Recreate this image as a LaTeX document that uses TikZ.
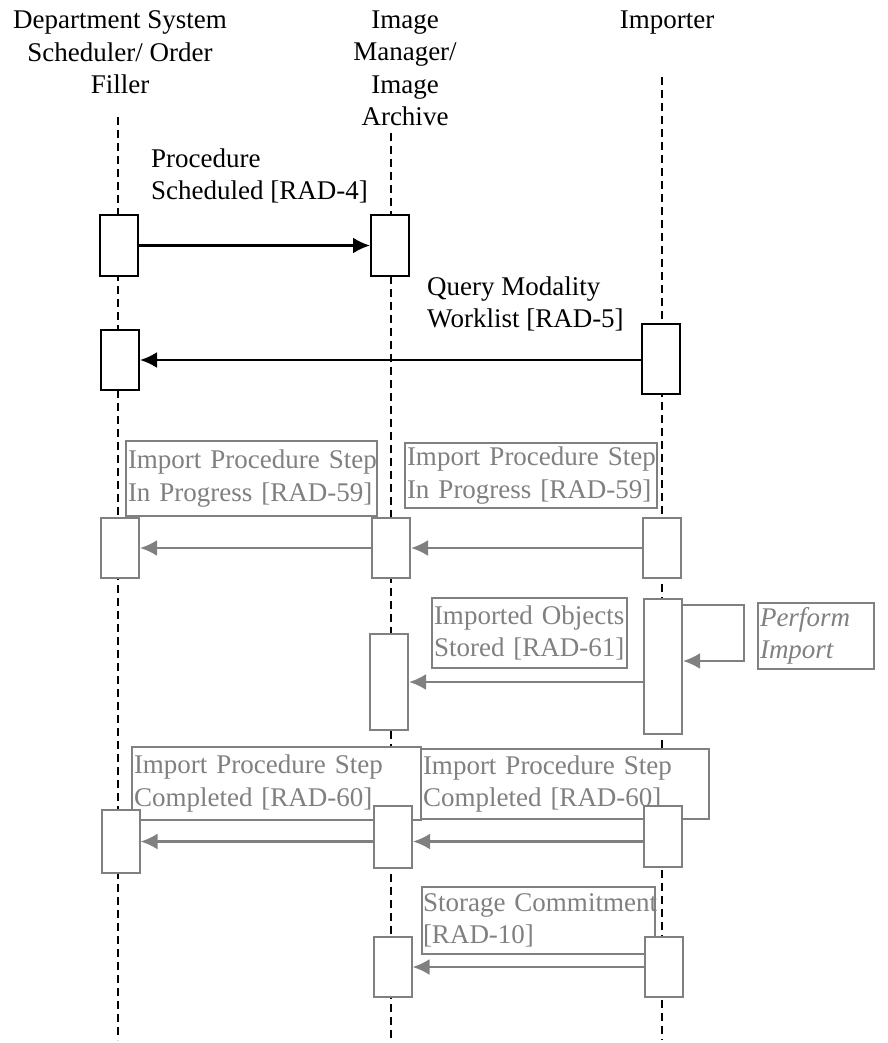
\documentclass[tikz,border=0pt]{standalone}
\usepackage{fontspec}
\setmainfont{Liberation Serif}
\usetikzlibrary{arrows.meta}

\newcommand{\diagfont}{\fontsize{27}{32.5}\selectfont}

\tikzset{
  lifeline/.style={line width=1.5pt, dash pattern=on 8pt off 5pt},
  actbox/.style={draw, fill=white, line width=2pt, minimum width=38pt, inner sep=0pt},
  greybox/.style={actbox, draw=gray},
  msg/.style={-{Latex[length=17pt,width=16pt]}, line width=2.5pt},
  greymsg/.style={msg, gray},
  note/.style={draw=gray, fill=white, text=gray, line width=2pt, align=left,
    anchor=north west, inner xsep=2pt, inner ysep=0pt},
  actor/.style={align=center, anchor=north, inner sep=0pt},
  plain/.style={align=left, anchor=north west, inner sep=0pt}
}

\begin{document}
\begin{tikzpicture}[x=1pt, y=-1pt, every node/.style={font=\diagfont}]
  \useasboundingbox (0,0) rectangle (887,1043);
  % actors
  \node[actor] (dss) at (120,10.5) {Department System\\Scheduler/ Order\\Filler};
  \node[actor] (im) at (405,10.5) {Image\\Manager/\\Image\\Archive};
  \node[actor] (imp) at (667,10.5) {Importer};
  % lifelines
  \coordinate (dssA) at (118,117);
  \coordinate (dssB) at (118,1040);
  \coordinate (imA) at (391,133);
  \coordinate (imB) at (391,1040);
  \coordinate (impA) at (662,77);
  \coordinate (impB) at (662,1040);
  \draw[lifeline] (dssA) -- (dssB);
  \draw[lifeline] (imA) -- (imB);
  \draw[lifeline] (impA) -- (impB);

  % message labels
  \node[plain] (ps) at (151,148.5) {Procedure\\Scheduled [RAD-4]};
  \node[plain] (qm) at (427,276.5) {Query Modality\\Worklist [RAD-5]};
  \node[note, minimum width=251pt, minimum height=75pt, text width=247pt] (ipL) at (125,440)
    {\mbox{Import Procedure Step}\\\mbox{In Progress [RAD-59]}};
  \node[note, minimum width=252pt, minimum height=65pt, text width=248pt] (ipR) at (404,442)
    {\mbox{Import Procedure Step}\\\mbox{In Progress [RAD-59]}};
  \node[note, minimum width=195pt, minimum height=70pt, text width=191pt] (ios) at (431,597)
    {\mbox{Imported Objects}\\\mbox{Stored [RAD-61]}};
  \node[note, minimum width=116pt, minimum height=66pt, text width=112pt,
    font=\diagfont\itshape] (pim) at (757,602) {Perform\\Import};
  \node[note, minimum width=289pt, minimum height=73pt, text width=285pt] (ipcL) at (131,746)
    {\mbox{Import Procedure Step}\\\mbox{Completed [RAD-60]}};
  \node[note, minimum width=288pt, minimum height=70pt, text width=284pt] (ipcR) at (420,748)
    {\mbox{Import Procedure Step}\\\mbox{Completed [RAD-60]}};
  \node[note, minimum width=233pt, minimum height=67pt, text width=231pt, inner xsep=1pt] (sc) at (421,886)
    {\mbox{Storage Commitment}\\{}[RAD-10]};

  % activation boxes
  \node[actbox, minimum height=61pt] (dss1) at (119,245.5) {};
  \node[actbox, minimum height=61pt] (im1) at (390,245.5) {};
  \node[actbox, minimum height=60pt] (dss2) at (120,360) {};
  \node[actbox, minimum height=70pt] (imp2) at (661,359) {};
  \node[greybox, minimum height=60pt] (dss3) at (120,548) {};
  \node[greybox, minimum height=60pt] (im3) at (391,548) {};
  \node[greybox, minimum height=60pt] (imp3) at (661.5,548) {};
  \node[greybox, minimum height=96pt] (im4) at (389,682) {};
  \node[greybox, minimum height=135pt] (imp4) at (663,666.5) {};
  \node[greybox, minimum height=63pt] (dss5) at (120.5,841.5) {};
  \node[greybox, minimum height=62pt] (im5) at (393,837) {};
  \node[greybox, minimum height=61pt] (imp5) at (662.5,836.5) {};
  \node[greybox, minimum height=60pt] (im6) at (392.5,967) {};
  \node[greybox, minimum height=60pt] (imp6) at (664,967) {};

  % messages
  \draw[msg] (dss1.east) -- (im1.west);
  \draw[msg] (imp2.west |- dss2.east) -- (dss2.east);
  \draw[greymsg] (im3.west) -- (dss3.east);
  \draw[greymsg] (imp3.west) -- (im3.east);
  \draw[greymsg] (imp4.west |- im4.east) -- (im4.east);
  \coordinate (lpA) at (744,605);
  \coordinate (lpB) at (744,661);
  \draw[greymsg] (imp4.east |- lpA) -- (lpA) -- (lpB) -- (imp4.east |- lpB);
  \draw[greymsg] (im5.west |- dss5.east) -- (dss5.east);
  \draw[greymsg] (imp5.west |- dss5.east) -- (im5.east |- dss5.east);
  \draw[greymsg] (imp6.west) -- (im6.east);
\end{tikzpicture}
\end{document}
